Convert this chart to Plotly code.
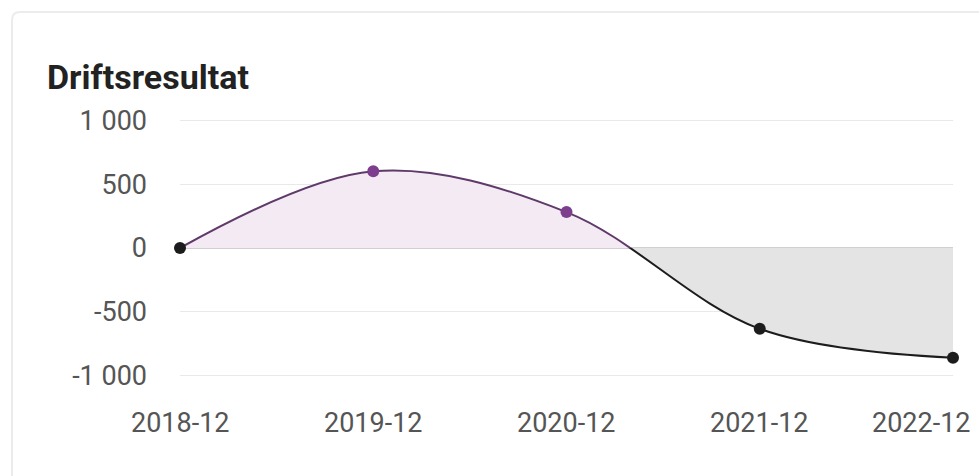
import plotly.graph_objects as go

periods = ["2018-12", "2019-12", "2020-12", "2021-12", "2022-12"]
values = [0, 601, 281, -633, -859]
title_text = "Driftsresultat"
y_ticks_pos = [0, 500, 1000]
y_ticks_neg = [-1000, -500]

def fmt(v):
    s = f"{abs(v):,}".replace(",", " ")
    return ("-" if v < 0 else "") + s

PURPLE_LINE = "#5f3a69"
PURPLE_MARK = "#7d3e8e"
PURPLE_FILL = "#f4eaf4"
DARK = "#1c1c1c"
GREY_FILL = "#e4e4e4"

W, H = 979, 476
L, R, T, B = 180, 26, 119, 99
pw, ph = W - L - R, H - T - B
YMAX = 1010

fig = go.Figure()

pos_colors = [PURPLE_MARK if v > 0 else "rgba(0,0,0,0)" for v in values]
neg_colors = [DARK if v <= 0 else "rgba(0,0,0,0)" for v in values]

fig.add_trace(go.Scatter(
    x=periods, y=values, xaxis="x", yaxis="y",
    mode="lines+markers", line=dict(color=PURPLE_LINE, width=2, shape="spline", smoothing=1),
    marker=dict(color=pos_colors, size=12), fill="tozeroy", fillcolor=PURPLE_FILL,
    cliponaxis=False, hoverinfo="skip", showlegend=False))
fig.add_trace(go.Scatter(
    x=periods, y=values, xaxis="x", yaxis="y2",
    mode="lines+markers", line=dict(color=DARK, width=2, shape="spline", smoothing=1),
    marker=dict(color=neg_colors, size=12), fill="tozeroy", fillcolor=GREY_FILL,
    cliponaxis=False, hoverinfo="skip", showlegend=False))

tickfont = dict(family="Roboto", size=27, color="#555555")

def px(xp):
    return (xp - L) / pw
def py(yp):
    return (H - B - yp) / ph

# x-axis labels as annotations (last one kept inside the card, as in the reference)
annotations = []
for i, p in enumerate(periods):
    last = i == len(periods) - 1
    annotations.append(dict(
        text=p, x=p, xref="x", y=py(423), yref="paper", showarrow=False,
        xanchor="right" if last else "center", yanchor="middle",
        xshift=20 if last else 0, font=tickfont))

# card border (decoration)
r = 8
path = (f"M {px(12)},{py(520)} L {px(12)},{py(12 + r)} "
        f"Q {px(12)},{py(12)} {px(12 + r)},{py(12)} L {px(1020)},{py(12)}")

fig.update_layout(
    width=W, height=H,
    margin=dict(l=L, r=R, t=T, b=B, autoexpand=False),
    paper_bgcolor="white", plot_bgcolor="rgba(0,0,0,0)",
    title=dict(text=f"<b>{title_text}</b>", x=47 / W, xanchor="left", y=1 - 77 / H, yanchor="middle",
               font=dict(family="Roboto", size=34, color="#222222")),
    xaxis=dict(type="category", range=[0, len(periods) - 1], anchor="y2", showgrid=False,
               showticklabels=False, zeroline=False, showline=False, ticks="", automargin=False),
    yaxis=dict(domain=[0.5, 1], range=[0, YMAX], tickvals=y_ticks_pos,
               ticktext=[fmt(v) for v in y_ticks_pos], showgrid=True, gridcolor="#e9e9e9",
               zeroline=True, zerolinecolor="#cfcfcf", zerolinewidth=1.5,
               ticks="", tickfont=tickfont, ticklabelstandoff=32, anchor="x", automargin=False),
    yaxis2=dict(domain=[0, 0.5], range=[-YMAX, 0], tickvals=y_ticks_neg,
                ticktext=[fmt(v) for v in y_ticks_neg], showgrid=True, gridcolor="#e9e9e9",
                zeroline=False, ticks="", tickfont=tickfont, ticklabelstandoff=32, anchor="x",
                automargin=False),
    annotations=annotations,
    shapes=[dict(type="path", path=path, xref="paper", yref="paper",
                 line=dict(color="#ececec", width=2), layer="below")],
)

fig.write_html("out.html", config={"displayModeBar": False},
               post_script="document.body.style.margin='0px';")
